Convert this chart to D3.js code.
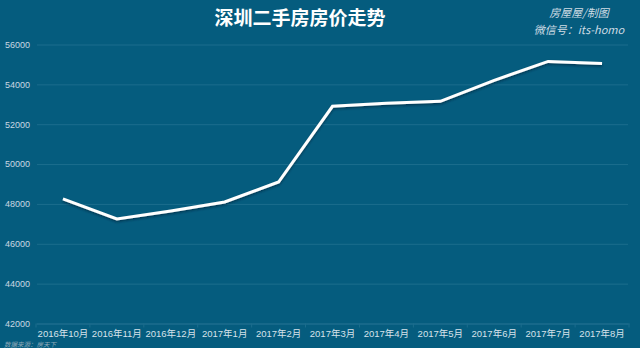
<!DOCTYPE html>
<html>
<head>
<meta charset="utf-8">
<script src="https://cdn.jsdelivr.net/npm/d3@7"></script>
<style>
  html, body { margin: 0; padding: 0; background: #055c7e; }
  svg { display: block; }
</style>
</head>
<body>
<div id="app"></div>
<script>
var months = ['2016年10月', '2016年11月', '2016年12月', '2017年1月', '2017年2月', '2017年3月',
    '2017年4月', '2017年5月', '2017年6月', '2017年7月', '2017年8月'];
var prices = [48250, 47250, 47650, 48100, 49100, 52900, 53050, 53150, 54200, 55150, 55050];
var yTicks = [42000, 44000, 46000, 48000, 50000, 52000, 54000, 56000];

var width = 640, height = 348;
var svg = d3.select('#app')
    .append('svg')
    .attr('width', width)
    .attr('height', height)
    .style('background', '#055c7e');

var x = d3.scaleBand().domain(months).range([36, 629]);
var y = d3.scaleLinear().domain([42000, 56000]).range([323.5, 44.5]);

// shadow for the line
var defs = svg.append('defs');
var f = defs.append('filter').attr('id', 'shadow').attr('x', '-5%').attr('y', '-20%')
    .attr('width', '110%').attr('height', '140%');
f.append('feDropShadow').attr('dx', 0).attr('dy', 1.5).attr('stdDeviation', 1)
    .attr('flood-color', '#002233').attr('flood-opacity', 0.6);

// grid + y labels
var yAxis = svg.append('g')
    .attr('transform', 'translate(37,0)')
    .call(d3.axisLeft(y).tickValues(yTicks).tickSize(-591).tickPadding(7).tickFormat(d3.format('d')));
yAxis.select('.domain').remove();
yAxis.selectAll('.tick line').attr('stroke', '#1c6d8d').attr('stroke-width', 1);
yAxis.selectAll('.tick text')
    .attr('fill', '#c9d8e2')
    .style('font-family', '"Liberation Sans", Arial, sans-serif')
    .style('font-size', '9px');

// x axis
var xAxis = svg.append('g')
    .attr('transform', 'translate(0,' + y(42000) + ')')
    .call(d3.axisBottom(x).tickSize(0).tickPadding(7));
xAxis.select('.domain').attr('stroke', '#1c6d8d');
xAxis.selectAll('.tick text')
    .attr('fill', '#d6e2ea')
    .style('font-family', '"Liberation Sans", "Noto Sans CJK SC", sans-serif')
    .style('font-size', '9.5px');
xAxis.selectAll('.sep')
    .data(months.concat(['end']))
    .enter().append('line')
    .attr('class', 'sep')
    .attr('x1', function(d, i) { return 36 + i * x.step(); })
    .attr('x2', function(d, i) { return 36 + i * x.step(); })
    .attr('y1', 0).attr('y2', 4)
    .attr('stroke', '#1c6d8d');

// line
var line = d3.line()
    .x(function(d, i) { return x(months[i]) + x.bandwidth() / 2; })
    .y(function(d) { return y(d); });

svg.append('path')
    .datum(prices)
    .attr('d', line)
    .attr('fill', 'none')
    .attr('stroke', '#ffffff')
    .attr('stroke-width', 3)
    .attr('filter', 'url(#shadow)');

// title
svg.append('text')
    .attr('x', 300).attr('y', 25)
    .attr('text-anchor', 'middle')
    .attr('fill', '#ffffff')
    .style('font-family', '"Noto Sans CJK SC", sans-serif')
    .style('font-weight', 'bold')
    .style('font-size', '19px')
    .text('深圳二手房房价走势');

// watermark
svg.append('text')
    .attr('x', 579).attr('y', 17)
    .attr('text-anchor', 'middle')
    .attr('fill', '#d0dde5')
    .style('font-family', '"Noto Sans CJK SC", sans-serif')
    .style('font-style', 'italic')
    .style('font-size', '11px')
    .text('房屋屋/制图');
svg.append('text')
    .attr('x', 579).attr('y', 34)
    .attr('text-anchor', 'middle')
    .attr('fill', '#d0dde5')
    .style('font-family', '"Noto Sans CJK SC", sans-serif')
    .style('font-style', 'italic')
    .style('font-size', '11px')
    .text('微信号：its-homo');

// source
svg.append('text')
    .attr('x', 4).attr('y', 347)
    .attr('fill', '#8fa9b8')
    .style('font-family', '"Noto Sans CJK SC", sans-serif')
    .style('font-style', 'italic')
    .style('font-size', '6.5px')
    .text('数据来源：房天下');
</script>
</body>
</html>
